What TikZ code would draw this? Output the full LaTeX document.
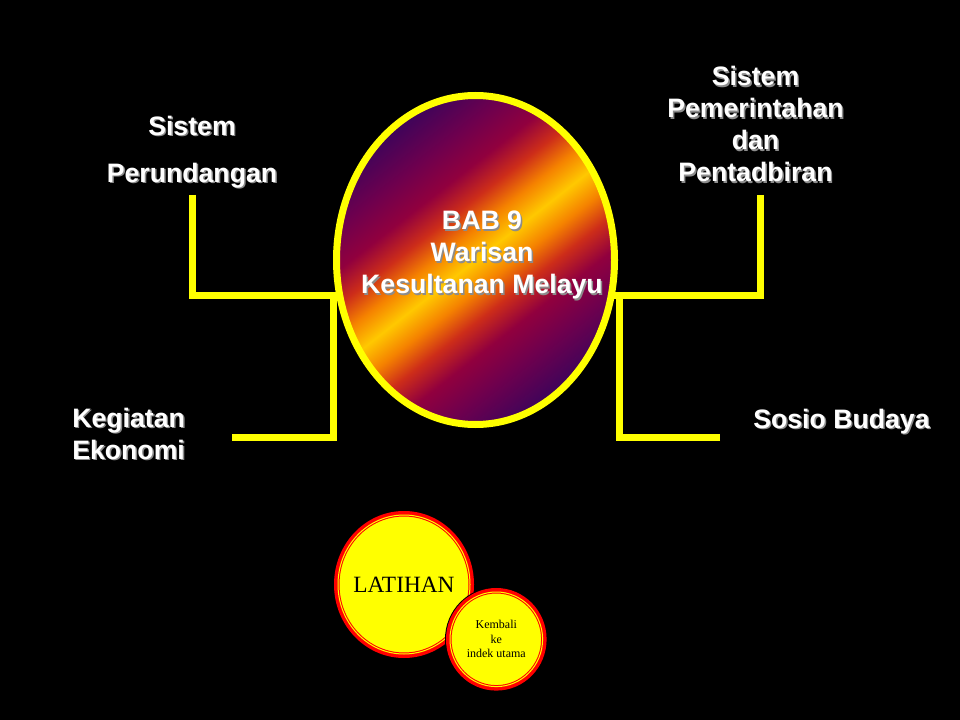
\documentclass[tikz,border=0pt]{standalone}
\usepackage{fontspec}
\setmainfont{Liberation Sans}
\newfontfamily\timesf{Liberation Serif}
\usetikzlibrary{shapes.geometric}
\definecolor{ylw}{RGB}{255,255,0}
\definecolor{shd}{RGB}{140,140,140}
\definecolor{bnavy}{RGB}{32,4,82}
\definecolor{bpurp}{RGB}{62,4,90}
\definecolor{bpc}{RGB}{110,0,78}
\definecolor{bcrim}{RGB}{145,0,62}
\definecolor{bred}{RGB}{205,45,25}
\definecolor{borng}{RGB}{245,130,0}
\definecolor{bgold}{RGB}{255,200,0}
\definecolor{ringred}{RGB}{255,0,0}
\pgfdeclarehorizontalshading{band}{100bp}{color(0bp)=(bnavy); color(16bp)=(bnavy); color(25bp)=(bpurp); color(32bp)=(bpc); color(37.5bp)=(bcrim); color(42bp)=(bred); color(46bp)=(borng); color(50bp)=(bgold); color(54bp)=(borng); color(58bp)=(bred); color(62.5bp)=(bcrim); color(68bp)=(bpc); color(75bp)=(bpurp); color(84bp)=(bnavy); color(100bp)=(bnavy)}
\newcommand\sh[1]{\leavevmode\rlap{\kern1.1pt\raisebox{-1.1pt}{\color{shd}#1}}#1}
\newcommand\lblfont{\fontsize{20}{24}\selectfont\bfseries}
\tikzset{
  conn/.style={draw=ylw, line width=5.25pt},
  lbl/.style={text=white, font=\lblfont, inner sep=0pt},
  core/.style={ellipse, draw=ylw, line width=5.25pt, shade, shading=band, shading angle=-52,
    minimum width=208.5pt, minimum height=246.75pt, inner sep=0pt},
  disc/.style={ellipse, fill=ylw, draw=ringred, line width=0.75pt, double=ylw, double distance=0.75pt,
    preaction={draw=black, line width=7.5pt}, preaction={draw=ringred, line width=6pt},
    inner sep=0pt, text=black}
}
\begin{document}
\begin{tikzpicture}[x=0.75pt,y=-0.75pt]
\fill[black] (0,0) rectangle (960,720);
\useasboundingbox (0,0) rectangle (960,720);
% free ends and joints
\coordinate (c1) at (192,195);
\coordinate (c2) at (232,437);
\coordinate (c3) at (760,195);
\coordinate (c4) at (720,437);
\coordinate (jl) at (340,296);
\coordinate (vl) at (333,296);
\coordinate (jr) at (612,296);
\coordinate (vr) at (619,296);
% labels
\node[lbl, anchor=base] (sist) at (192,135.5) {\sh{Sistem}};
\node[lbl, anchor=base] (perund) at (192,182.5) {\sh{Perundangan}};
\node[lbl, align=center] (pemer) at (755.5,125) {\sh{Sistem}\\\sh{Pemerintahan}\\\sh{dan}\\\sh{Pentadbiran}};
\node[lbl, align=left, anchor=west] (keg) at (72,434.7) {\sh{Kegiatan}\\\sh{Ekonomi}};
\node[lbl, anchor=base west] (sosio) at (753,428.5) {\sh{Sosio Budaya}};
% connectors
\draw[conn] (c1) |- (jl);
\draw[conn] (c2) -| (vl);
\draw[conn] (c3) |- (jr);
\draw[conn] (c4) -| (vr);
% central ellipse
\node[core] (core) at (475.5,260) {};
\node[lbl, align=center] (title) at (482,256) {\sh{BAB 9}\\\sh{Warisan}\\\sh{Kesultanan Melayu}};
% buttons
\node[disc, minimum width=99pt, minimum height=104.25pt, font=\timesf\fontsize{17.5}{21}\selectfont] (lat) at (404,584.5) {\makebox[0pt]{LATIHAN}};
\node[disc, minimum width=69.45pt, minimum height=70.95pt, align=center, font=\timesf\fontsize{9}{10.9}\selectfont] (kemb) at (496.3,639.3) {Kembali\\ke\\indek utama};
\end{tikzpicture}
\end{document}
